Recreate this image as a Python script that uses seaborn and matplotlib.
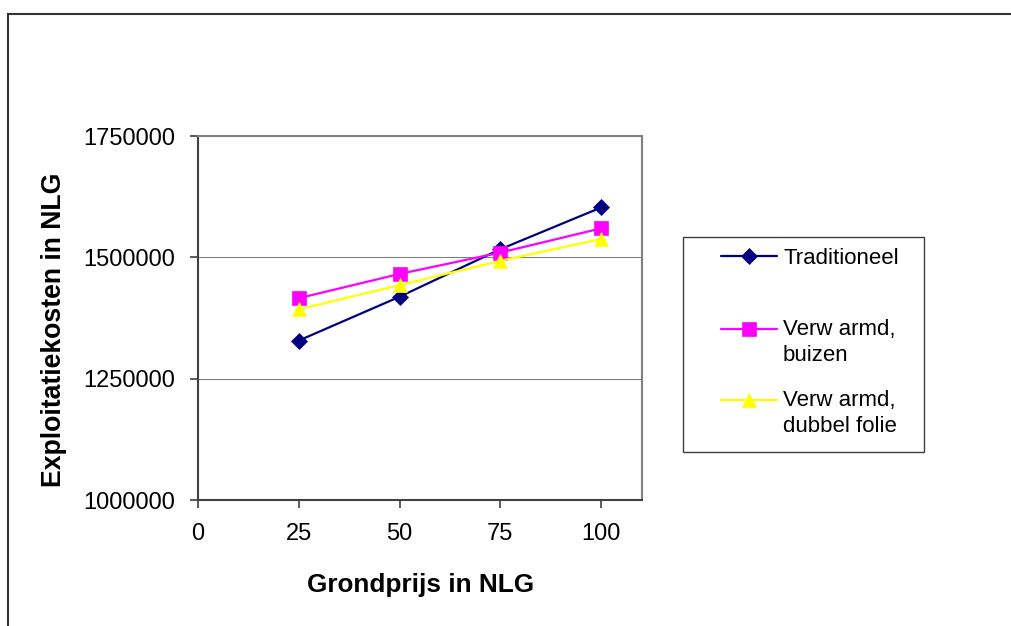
import matplotlib
matplotlib.use("Agg")
import matplotlib.pyplot as plt
import seaborn as sns
import pandas as pd
from matplotlib.legend_handler import HandlerLine2D
from matplotlib.transforms import Affine2D
from matplotlib.patches import Rectangle

# ---- data ----
grondprijs = [25, 50, 75, 100]
traditioneel = [1328700, 1419000, 1517000, 1603000]
verwarmd_buizen = [1416000, 1466000, 1510000, 1560000]
verwarmd_folie = [1393000, 1443000, 1493000, 1538000]
series_names = ["Traditioneel", "Verw armd,\nbuizen", "Verw armd,\ndubbel folie"]
x_ticks = [0, 25, 50, 75, 100]
y_ticks = [1000000, 1250000, 1500000, 1750000]
x_label = "Grondprijs in NLG"
y_label = "Exploitatiekosten in NLG"

sns.set_theme(style="white")
plt.rcParams['font.family'] = ['Liberation Sans', 'DejaVu Sans']
plt.rcParams['text.color'] = 'black'
plt.rcParams['axes.labelcolor'] = 'black'
plt.rcParams['xtick.color'] = 'black'
plt.rcParams['ytick.color'] = 'black'

W, H = 1011, 626
fig = plt.figure(figsize=(W / 100, H / 100), dpi=100)


def px_rect(x0, y0, x1, y1):
    return [x0 / W, 1 - y1 / H, (x1 - x0) / W, (y1 - y0) / H]


ax = fig.add_axes(px_rect(197.7, 136, 641.7, 500.3))

colors = ["#000080", "#FF00FF", "#FFFF00"]
markers = ["D", "s", "^"]
msizes = [8, 9.5, 10]
all_series = [traditioneel, verwarmd_buizen, verwarmd_folie]

lines = []
for vals, name, c, m, ms in zip(all_series, series_names, colors, markers, msizes):
    df = pd.DataFrame({"x": grondprijs, "y": vals})
    sns.lineplot(data=df, x="x", y="y", ax=ax, color=c, marker=m, markersize=ms,
                 markeredgecolor=c, markeredgewidth=0.5, linewidth=1.6, legend=False)
    lines.append(ax.lines[-1])

ax.set_xlim(0, 110)
ax.set_ylim(1000000, 1750000)
ax.set_xticks(x_ticks)
ax.set_xticklabels([str(v) for v in x_ticks])
ax.set_yticks(y_ticks)
ax.set_yticklabels([str(v) for v in y_ticks])

ax.yaxis.grid(True, color="#808080", linewidth=0.8)
ax.xaxis.grid(False)
ax.set_axisbelow(True)

for s in ["left", "bottom"]:
    ax.spines[s].set_color("#404040")
    ax.spines[s].set_linewidth(1.5)
for s in ["top", "right"]:
    ax.spines[s].set_color("#808080")
    ax.spines[s].set_linewidth(1.5)

ax.tick_params(axis="both", which="major", bottom=True, left=True, direction="out",
               length=5.5, width=1.2, color="#404040", pad=11, labelsize=17,
               labelcolor="black")

ax.set_xlabel(x_label, fontsize=18.8, fontweight="bold", va="center")
ax.set_ylabel(y_label, fontsize=19.2, fontweight="bold", va="center")
ax.xaxis.set_label_coords(0.502, -0.2325)
ax.yaxis.set_label_coords(-0.3236, 0.467)


class ShiftedHandler(HandlerLine2D):
    def __init__(self, dy=0.0, **kw):
        super().__init__(**kw)
        self._dy = dy

    def create_artists(self, legend, orig_handle, xdescent, ydescent, width,
                       height, fontsize, trans):
        arts = super().create_artists(legend, orig_handle, xdescent, ydescent,
                                      width, height, fontsize, trans)
        t = Affine2D().translate(0, self._dy) + trans
        for a in arts:
            a.set_transform(t)
        return arts


# legend box
fig.add_artist(Rectangle((683 / W, 1 - 452 / H), (924 - 683) / W, (452 - 237) / H,
                         transform=fig.transFigure, fill=True, facecolor="white",
                         edgecolor="#404040", linewidth=1.0, zorder=1))

legend_centers = [258, 342.5, 413.5]
shifts = [0.0, 9.7, 9.7]
for line, name, yc, dy in zip(lines, series_names, legend_centers, shifts):
    leg = fig.legend(handles=[line], labels=[name], loc="center left",
                     bbox_to_anchor=(721 / W, 1 - yc / H), bbox_transform=fig.transFigure,
                     frameon=False, borderpad=0, borderaxespad=0, handlelength=2.52,
                     handletextpad=0.27, fontsize=16, numpoints=1,
                     handler_map={line: ShiftedHandler(dy=dy)})
    for t in leg.get_texts():
        t.set_linespacing(1.35)

# outer chart frame (cut off at right and bottom)
fig.add_artist(Rectangle((8 / W, -0.05), 1.2, 1 - 14 / H + 0.05,
                         transform=fig.transFigure, fill=False,
                         edgecolor="#333333", linewidth=1.5, zorder=0))

fig.savefig("out.png", dpi=100)
